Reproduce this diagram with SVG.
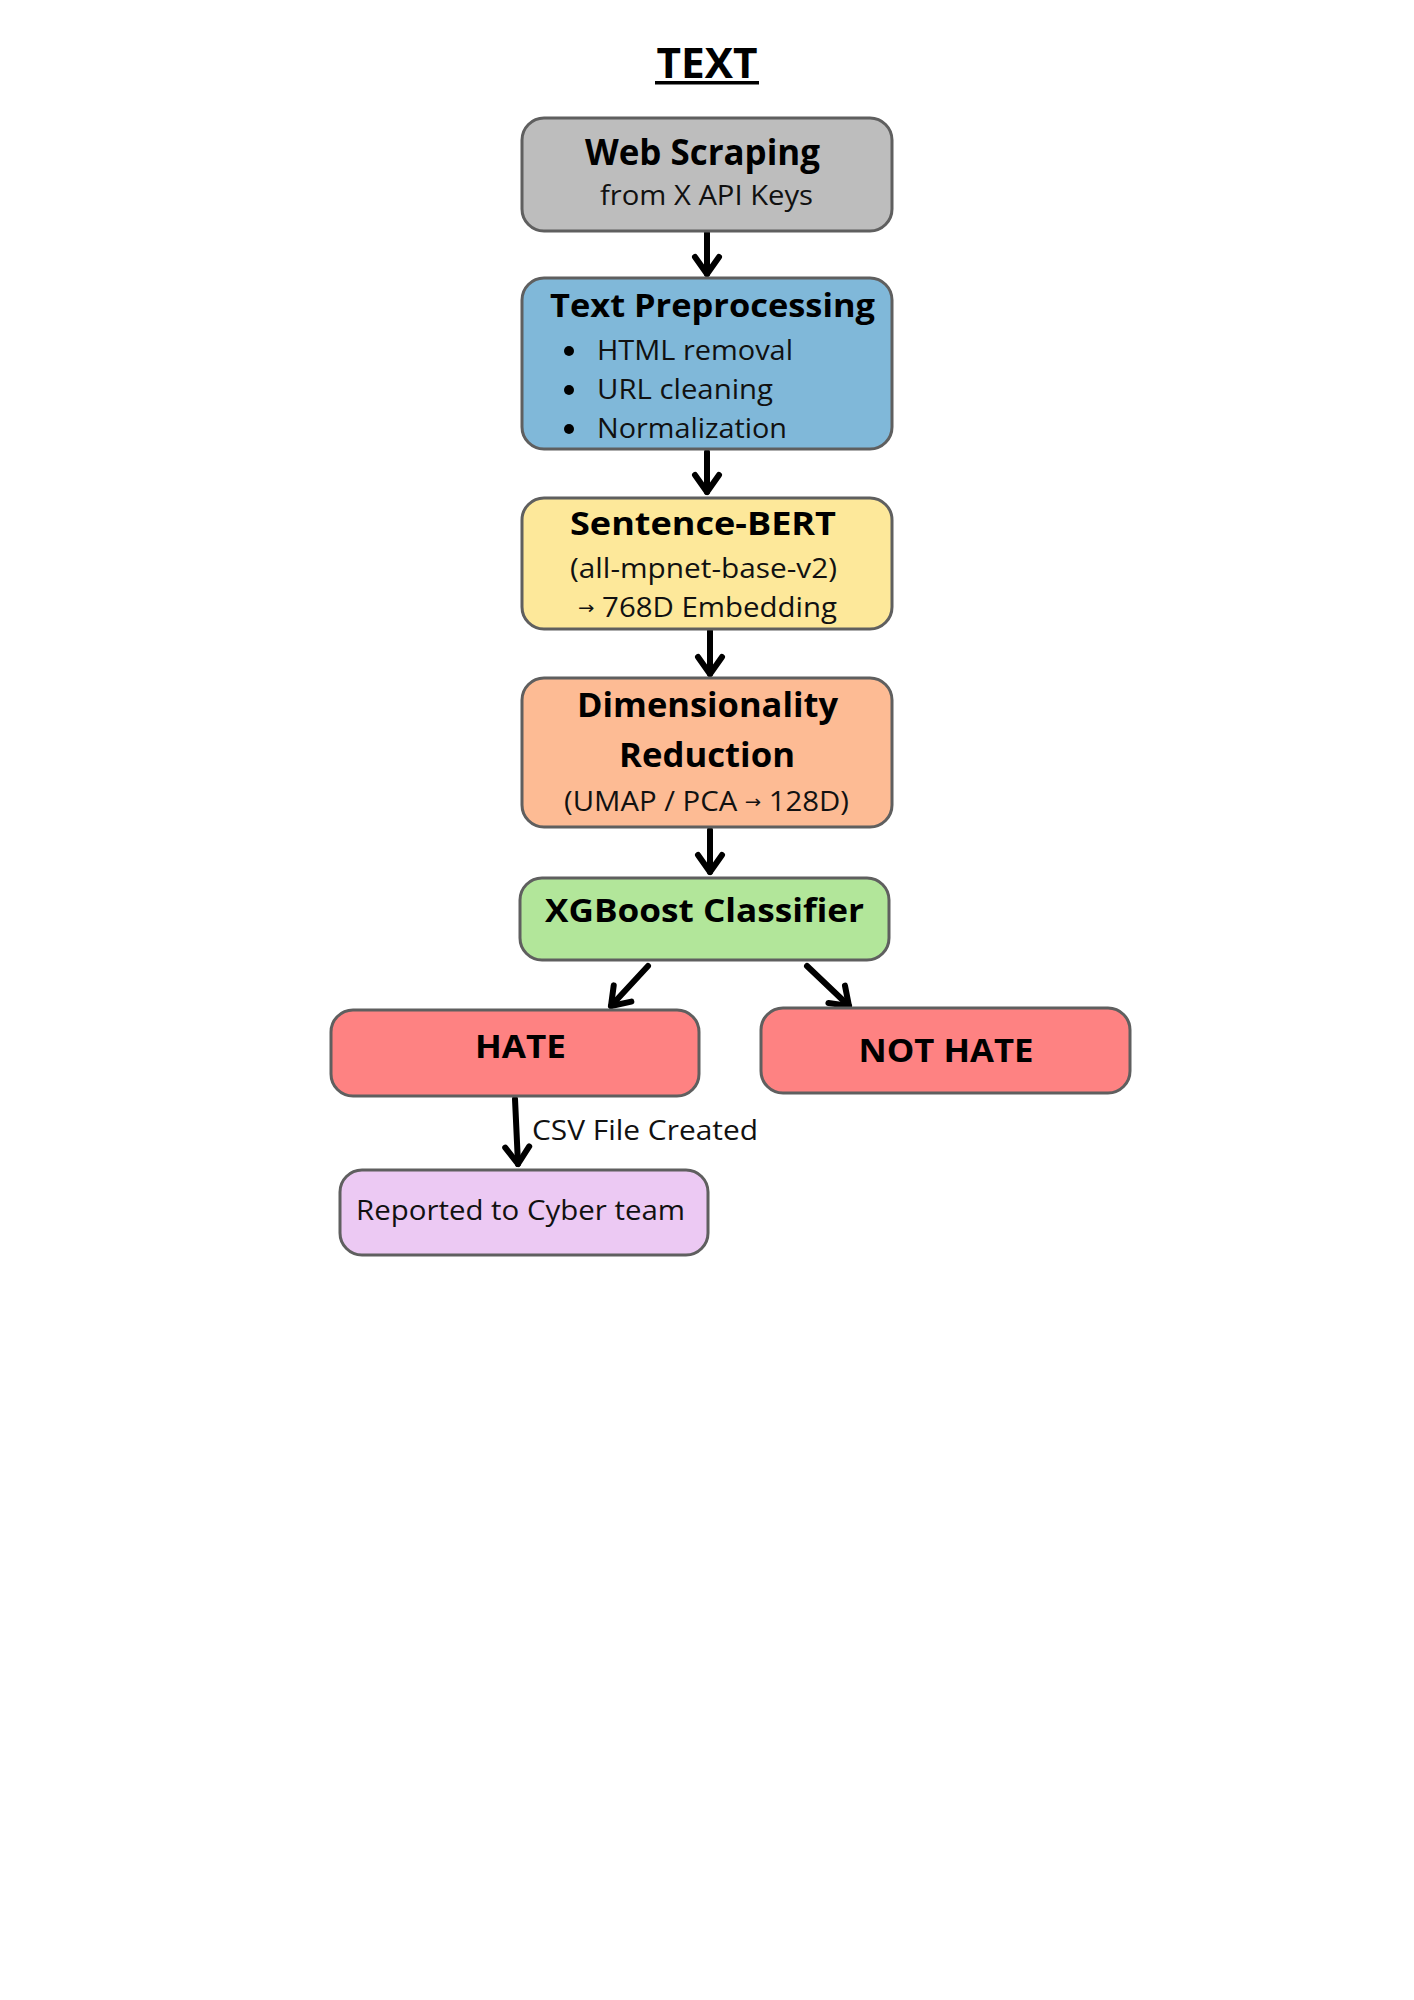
<svg xmlns="http://www.w3.org/2000/svg" width="1414" height="2000" viewBox="0 0 1414 2000">
<style>
.box{stroke:#5f5f5f;stroke-width:3}
.b{font-family:"Open Sans","Noto Sans","DejaVu Sans",sans-serif;font-weight:700;fill:#000}
.r{font-family:"Open Sans","Noto Sans","DejaVu Sans",sans-serif;font-weight:400;fill:#111}
.c{text-anchor:middle}
.conn{stroke:#000;stroke-width:6;fill:none;stroke-linecap:round}
</style>
<defs>
<marker id="ah" markerUnits="userSpaceOnUse" markerWidth="40" markerHeight="40" refX="0" refY="0" orient="auto" overflow="visible">
<path d="M -17 -12 L 0 0 L -17 12" fill="none" stroke="#000" stroke-width="6" stroke-linecap="round" stroke-linejoin="round"/>
</marker>
</defs>
<rect width="1414" height="2000" fill="#fff"/>
<g id="title">
<text class="b c" x="707" y="78" font-size="42" textLength="101" lengthAdjust="spacingAndGlyphs">TEXT</text>
<rect x="655" y="81" width="104" height="3.5" fill="#000"/>
</g>
<g id="connectors">
<line class="conn" x1="707" y1="233" x2="707" y2="274" marker-end="url(#ah)"/>
<line class="conn" x1="707" y1="452" x2="707" y2="492" marker-end="url(#ah)"/>
<line class="conn" x1="710" y1="631" x2="710" y2="674" marker-end="url(#ah)"/>
<line class="conn" x1="710" y1="830" x2="710" y2="872" marker-end="url(#ah)"/>
<line class="conn" x1="648" y1="966" x2="611" y2="1006" marker-end="url(#ah)"/>
<line class="conn" x1="807" y1="966" x2="849" y2="1006" marker-end="url(#ah)"/>
<line class="conn" x1="515" y1="1099" x2="518" y2="1164" marker-end="url(#ah)"/>
<text class="r" x="532" y="1140" font-size="27" textLength="226" lengthAdjust="spacingAndGlyphs">CSV File Created</text>
</g>
<g id="web-scraping">
<rect class="box" x="522" y="118" width="370" height="113" rx="22" fill="#bdbdbd"/>
<text class="b c" x="702.5" y="165" font-size="35" textLength="235" lengthAdjust="spacingAndGlyphs">Web Scraping</text>
<text class="r c" x="706.5" y="205" font-size="27" textLength="213" lengthAdjust="spacingAndGlyphs">from X API Keys</text>
</g>
<g id="text-preprocessing">
<rect class="box" x="522" y="278" width="370" height="171" rx="22" fill="#80b8d9"/>
<text class="b c" x="712.5" y="317" font-size="33" textLength="325" lengthAdjust="spacingAndGlyphs">Text Preprocessing</text>
<circle cx="569" cy="351" r="5" fill="#000"/>
<circle cx="569" cy="390" r="5" fill="#000"/>
<circle cx="569" cy="429" r="5" fill="#000"/>
<text class="r" x="597" y="360" font-size="28" textLength="196" lengthAdjust="spacingAndGlyphs">HTML removal</text>
<text class="r" x="597" y="399" font-size="28" textLength="176" lengthAdjust="spacingAndGlyphs">URL cleaning</text>
<text class="r" x="597" y="438" font-size="28" textLength="190" lengthAdjust="spacingAndGlyphs">Normalization</text>
</g>
<g id="sentence-bert">
<rect class="box" x="522" y="498" width="370" height="131" rx="22" fill="#fde89a"/>
<text class="b c" x="703" y="535" font-size="33" textLength="266" lengthAdjust="spacingAndGlyphs">Sentence-BERT</text>
<text class="r c" x="703.5" y="578" font-size="27" textLength="267" lengthAdjust="spacingAndGlyphs">(all-mpnet-base-v2)</text>
<text class="r c" x="707.5" y="617" font-size="27" textLength="259" lengthAdjust="spacingAndGlyphs"><tspan font-size="18" dy="-3">→</tspan><tspan dy="3"> 768D Embedding</tspan></text>
</g>
<g id="dimensionality-reduction">
<rect class="box" x="522" y="678" width="370" height="149" rx="22" fill="#fdbb94"/>
<text class="b c" x="707.5" y="717" font-size="34" textLength="261" lengthAdjust="spacingAndGlyphs">Dimensionality</text>
<text class="b c" x="707" y="767" font-size="34" textLength="176" lengthAdjust="spacingAndGlyphs">Reduction</text>
<text class="r c" x="706.5" y="811" font-size="27" textLength="285" lengthAdjust="spacingAndGlyphs">(UMAP / PCA <tspan font-size="18" dy="-3">→</tspan><tspan dy="3"> 128D)</tspan></text>
</g>
<g id="xgboost">
<rect class="box" x="520" y="878" width="369" height="82" rx="22" fill="#b2e69a"/>
<text class="b c" x="704.5" y="922" font-size="33" textLength="319" lengthAdjust="spacingAndGlyphs">XGBoost Classifier</text>
</g>
<g id="hate">
<rect class="box" x="331" y="1010" width="368" height="86" rx="22" fill="#fe8282"/>
<text class="b c" x="520.5" y="1058" font-size="33" textLength="91" lengthAdjust="spacingAndGlyphs">HATE</text>
</g>
<g id="not-hate">
<rect class="box" x="761" y="1008" width="369" height="85" rx="22" fill="#fe8282"/>
<text class="b c" x="946" y="1062" font-size="33" textLength="175" lengthAdjust="spacingAndGlyphs">NOT HATE</text>
</g>
<g id="reported">
<rect class="box" x="340" y="1170" width="368" height="85" rx="22" fill="#ecc9f3"/>
<text class="r c" x="520.5" y="1220" font-size="28" textLength="329" lengthAdjust="spacingAndGlyphs">Reported to Cyber team</text>
</g>
</svg>
